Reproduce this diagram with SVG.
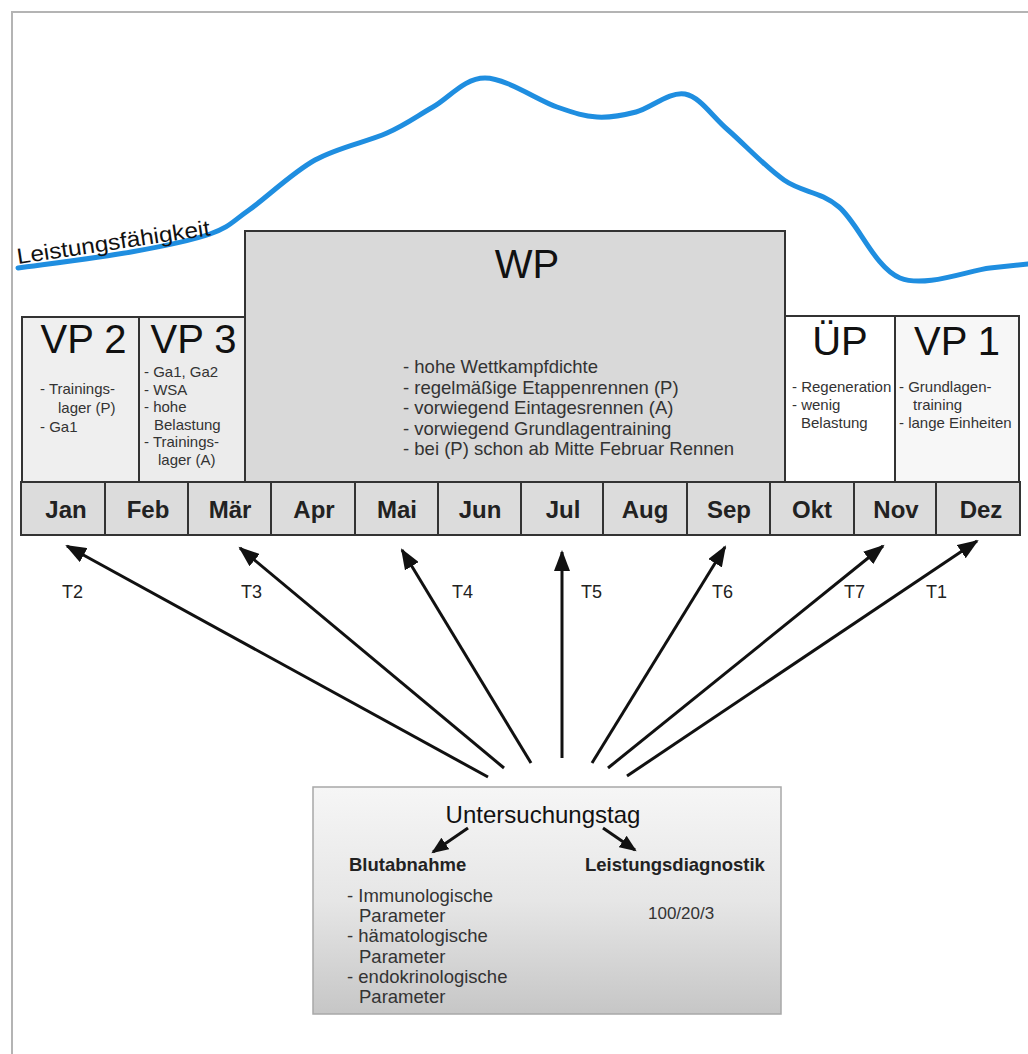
<svg xmlns="http://www.w3.org/2000/svg" width="1028" height="1054" viewBox="0 0 1028 1054">
<defs>
<style>
text{font-family:"Liberation Sans",Arial,sans-serif;}
.box{stroke:#333;stroke-width:2;}
.title{font-size:40px;fill:#111;text-anchor:middle;}
.list{font-size:15px;fill:#333;}
.wpl{font-size:18.5px;fill:#333;}
.mon{font-size:24px;font-weight:bold;fill:#222;text-anchor:middle;}
.msep{stroke:#333;stroke-width:2;}
.arr{stroke:#111;stroke-width:3;fill:none;marker-end:url(#ah);}
.sarr{stroke:#111;stroke-width:3;fill:none;marker-end:url(#ahs);}
.tl{font-size:18px;fill:#222;}
.bl{font-size:18.5px;fill:#333;}
.bh{font-size:18.5px;font-weight:bold;fill:#222;}
</style>
<marker id="ah" markerUnits="userSpaceOnUse" markerWidth="22" markerHeight="16" refX="19" refY="8" orient="auto">
<path d="M0,0 L21,8 L0,16 z" fill="#111"/>
</marker>
<marker id="ahs" markerUnits="userSpaceOnUse" markerWidth="18" markerHeight="14" refX="15" refY="7" orient="auto">
<path d="M0,0 L17,7 L0,14 z" fill="#111"/>
</marker>
<linearGradient id="bg" x1="0" y1="0" x2="0" y2="1">
<stop offset="0" stop-color="#f6f6f6"/>
<stop offset="0.5" stop-color="#e6e6e6"/>
<stop offset="1" stop-color="#c6c6c6"/>
</linearGradient>
</defs>
<rect x="0" y="0" width="1028" height="1054" fill="#fff"/>
<g id="frame" stroke="#b4b4b4" stroke-width="2" fill="none">
<path d="M12,1054 L12,12 L1028,12"/>
</g>
<g id="curve">
<path d="M18,268 C36.8,265.3 99,257.7 131,252 C163,246.3 190.3,241 210,234 C229.7,227 231.5,222.3 249,210 C266.5,197.7 292,172.8 315,160 C338,147.2 367.3,141.8 387,133 C406.7,124.2 416.7,116.2 433,107 C449.3,97.8 464.3,78 485,78 C505.7,78 538.3,100.5 557,107 C575.7,113.5 583.8,116.2 597,117 C610.2,117.8 621.3,115.8 636,112 C650.7,108.2 669.7,91 685,94 C700.3,97 711.5,115.7 728,130 C744.5,144.3 765.5,167.2 784,180 C802.5,192.8 819.7,190.7 839,207 C858.3,223.3 874.8,267.8 900,278 C925.2,288.2 968.7,270.3 990,268 C1011.3,265.7 1021.7,264.7 1028,264" fill="none" stroke="#1f8ee0" stroke-width="5" stroke-linecap="round"/>
<text x="18" y="264" font-size="22" fill="#111" transform="rotate(-8.5 18 264)" textLength="195" lengthAdjust="spacingAndGlyphs">Leistungsfähigkeit</text>
</g>
<g id="wp">
<rect class="box" x="245" y="231" width="540" height="251" fill="#d9d9d9"/>
<text class="title" x="527" y="278">WP</text>
<text class="wpl" x="403" y="373">- hohe Wettkampfdichte</text>
<text class="wpl" x="403" y="393.5">- regelmäßige Etappenrennen (P)</text>
<text class="wpl" x="403" y="414">- vorwiegend Eintagesrennen (A)</text>
<text class="wpl" x="403" y="434.5">- vorwiegend Grundlagentraining</text>
<text class="wpl" x="403" y="455">- bei (P) schon ab Mitte Februar Rennen</text>
</g>
<g id="vp2">
<rect class="box" x="22" y="317" width="117" height="165" fill="#efefef"/>
<text class="title" x="83.5" y="353">VP 2</text>
<text class="list" x="40" y="394">- Trainings-</text>
<text class="list" x="58" y="413">lager (P)</text>
<text class="list" x="40" y="432">- Ga1</text>
</g>
<g id="vp3">
<rect class="box" x="139" y="317" width="106" height="165" fill="#ececec"/>
<text class="title" x="193.5" y="353">VP 3</text>
<text class="list" x="144" y="377">- Ga1, Ga2</text>
<text class="list" x="144" y="394.5">- WSA</text>
<text class="list" x="144" y="412">- hohe</text>
<text class="list" x="154" y="429.5">Belastung</text>
<text class="list" x="144" y="447">- Trainings-</text>
<text class="list" x="158" y="464.5">lager (A)</text>
</g>
<g id="up">
<rect class="box" x="785" y="316" width="110" height="166" fill="#ffffff"/>
<text class="title" x="840" y="355">ÜP</text>
<text class="list" x="792" y="392" font-size="14">- Regeneration</text>
<text class="list" x="792" y="410" font-size="14">- wenig</text>
<text class="list" x="801" y="428" font-size="14">Belastung</text>
</g>
<g id="vp1">
<rect class="box" x="895" y="316" width="124" height="166" fill="#f7f7f7"/>
<text class="title" x="957" y="355">VP 1</text>
<text class="list" x="899" y="392" font-size="14">- Grundlagen-</text>
<text class="list" x="913" y="410" font-size="14">training</text>
<text class="list" x="899" y="428" font-size="14">- lange Einheiten</text>
</g>
<g id="months">
<rect class="box" x="21" y="482" width="999" height="53" fill="#dcdcdc"/>
<line class="msep" x1="105" y1="482" x2="105" y2="535"/>
<line class="msep" x1="188" y1="482" x2="188" y2="535"/>
<line class="msep" x1="271" y1="482" x2="271" y2="535"/>
<line class="msep" x1="355" y1="482" x2="355" y2="535"/>
<line class="msep" x1="438" y1="482" x2="438" y2="535"/>
<line class="msep" x1="521" y1="482" x2="521" y2="535"/>
<line class="msep" x1="603" y1="482" x2="603" y2="535"/>
<line class="msep" x1="687" y1="482" x2="687" y2="535"/>
<line class="msep" x1="770" y1="482" x2="770" y2="535"/>
<line class="msep" x1="854" y1="482" x2="854" y2="535"/>
<line class="msep" x1="936" y1="482" x2="936" y2="535"/>
<text class="mon" x="66" y="518">Jan</text>
<text class="mon" x="148" y="518">Feb</text>
<text class="mon" x="230" y="518">Mär</text>
<text class="mon" x="314" y="518">Apr</text>
<text class="mon" x="397" y="518">Mai</text>
<text class="mon" x="480" y="518">Jun</text>
<text class="mon" x="563" y="518">Jul</text>
<text class="mon" x="645" y="518">Aug</text>
<text class="mon" x="729" y="518">Sep</text>
<text class="mon" x="812" y="518">Okt</text>
<text class="mon" x="896" y="518">Nov</text>
<text class="mon" x="981" y="518">Dez</text>
</g>
<g id="connectors">
<line class="arr" x1="488" y1="777" x2="67" y2="546"/>
<line class="arr" x1="504" y1="768" x2="240" y2="548"/>
<line class="arr" x1="531" y1="763" x2="402" y2="550"/>
<line class="arr" x1="562" y1="758" x2="562" y2="552"/>
<line class="arr" x1="592" y1="763" x2="725" y2="547"/>
<line class="arr" x1="608" y1="768" x2="883" y2="546"/>
<line class="arr" x1="627" y1="776" x2="977" y2="541"/>
<text class="tl" x="62" y="598">T2</text>
<text class="tl" x="241" y="598">T3</text>
<text class="tl" x="452" y="598">T4</text>
<text class="tl" x="581" y="598">T5</text>
<text class="tl" x="712" y="598">T6</text>
<text class="tl" x="844" y="598">T7</text>
<text class="tl" x="926" y="598">T1</text>
</g>
<g id="untersuchung">
<rect x="313" y="787" width="468" height="227" fill="url(#bg)" stroke="#a8a8a8" stroke-width="1.5"/>
<text x="543" y="823" font-size="24" fill="#111" text-anchor="middle">Untersuchungstag</text>
<line class="sarr" x1="468" y1="828" x2="433" y2="852"/>
<line class="sarr" x1="603" y1="828" x2="635" y2="850"/>
<text class="bh" x="349" y="871">Blutabnahme</text>
<text class="bh" x="585" y="871">Leistungsdiagnostik</text>
<text class="bl" x="347" y="902">- Immunologische</text>
<text class="bl" x="359" y="922">Parameter</text>
<text class="bl" x="347" y="942">- hämatologische</text>
<text class="bl" x="359" y="963">Parameter</text>
<text class="bl" x="347" y="983">- endokrinologische</text>
<text class="bl" x="359" y="1003">Parameter</text>
<text x="648" y="919" font-size="17" fill="#333">100/20/3</text>
</g>
</svg>
